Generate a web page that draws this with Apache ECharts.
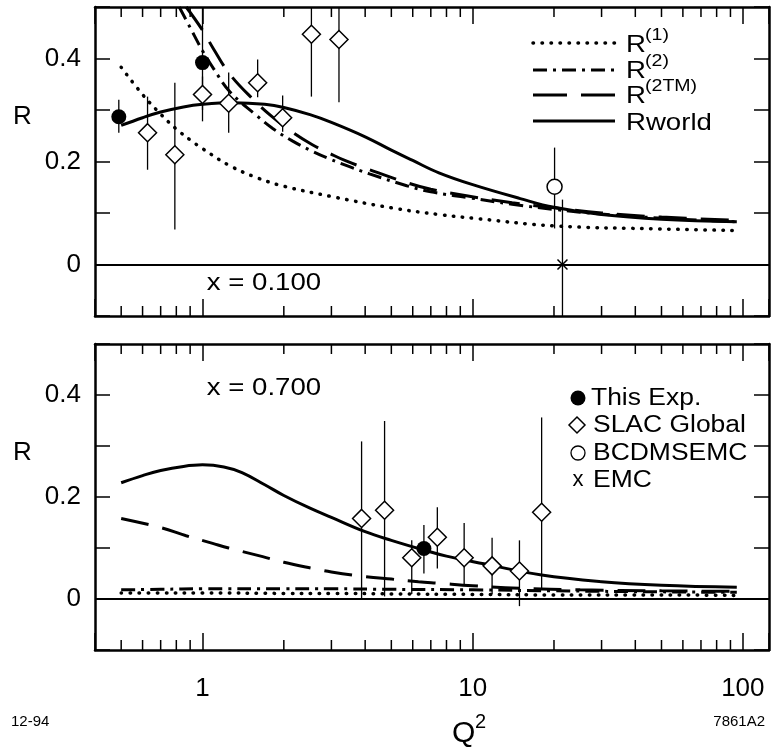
<!DOCTYPE html>
<html><head><meta charset="utf-8">
<script src="https://cdn.jsdelivr.net/npm/echarts@6/dist/echarts.min.js"></script>
<style>html,body{margin:0;padding:0;background:#fff}#c{width:775px;height:749px}</style>
</head><body><div id="c"></div>
<script>
// ---------------- DATA ----------------
// x-axis tick labels (Q^2, log scale)
const xTickLabels = [1, 10, 100];
const xMinorTicks = [0.5,0.6,0.7,0.8,0.9,2,3,4,5,6,7,8,9,20,30,40,50,60,70,80,90];
const yTickLabels = [0, 0.2, 0.4];

// ---- Panel 1: x = 0.100 ----
const r1TopQ   = [0.5, 0.6, 0.7, 0.8, 0.9, 1.0, 1.26, 1.6, 2.0, 3.0, 5.0, 7.5, 10, 20, 50, 95];
const r1TopR   = [0.383, 0.33, 0.292, 0.263, 0.242, 0.225, 0.192, 0.168, 0.152, 0.132, 0.11, 0.097, 0.09, 0.075, 0.069, 0.066];
const r2TopQ   = [0.82, 0.9, 1.0, 1.1, 1.26, 1.58, 1.82, 2.15, 2.5, 2.95, 3.5, 4.15, 5.7, 7, 9.6, 14, 20, 30, 50, 95];
const r2TopR   = [0.5, 0.46, 0.415, 0.38, 0.336, 0.29, 0.264, 0.24, 0.222, 0.205, 0.19, 0.176, 0.153, 0.141, 0.13, 0.117, 0.107, 0.098, 0.09, 0.083];
const r2tmTopQ = [0.87, 1.0, 1.1, 1.26, 1.53, 1.8, 2.15, 2.56, 3.0, 3.4, 4.06, 5.7, 7, 9.6, 14, 20, 30, 50, 95];
const r2tmTopR = [0.5, 0.455, 0.418, 0.37, 0.322, 0.288, 0.257, 0.232, 0.214, 0.201, 0.186, 0.159, 0.146, 0.133, 0.12, 0.11, 0.1, 0.092, 0.086];
const rwTopQ   = [0.5, 0.6, 0.7, 0.85, 1.0, 1.3, 1.7, 2.0, 2.5, 3.0, 4.0, 5.0, 6.0, 7.5, 10, 15, 20, 30, 50, 95];
const rwTopR   = [0.27, 0.285, 0.296, 0.306, 0.311, 0.314, 0.311, 0.305, 0.291, 0.276, 0.248, 0.222, 0.202, 0.178, 0.155, 0.128, 0.111, 0.097, 0.088, 0.083];

const expTopQ  = [0.49, 1.0];
const expTopR  = [0.287, 0.392];
const expTopLo = [0.256, 0.30];
const expTopHi = [0.32, 0.52];

const slacTopQ  = [0.626, 0.79, 1.0, 1.25, 1.6, 1.98, 2.53, 3.2];
const slacTopR  = [0.256, 0.213, 0.33, 0.313, 0.353, 0.285, 0.447, 0.437];
const slacTopLo = [0.184, 0.068, 0.278, 0.256, 0.325, 0.258, 0.326, 0.315];
const slacTopHi = [0.326, 0.353, 0.365, 0.373, 0.398, 0.328, 0.52, 0.52];

const bcdTopQ  = [20.1];
const bcdTopR  = [0.151];
const bcdTopLo = [0.07];
const bcdTopHi = [0.227];

const emcTopQ  = [21.5];
const emcTopR  = [0.0];
const emcTopLo = [-0.13];
const emcTopHi = [0.126];

// ---- Panel 2: x = 0.700 ----
const r1BotQ   = [0.5, 0.7, 1.0, 2.0, 3.0, 5.0, 10, 20, 50, 95];
const r1BotR   = [0.012, 0.012, 0.012, 0.011, 0.011, 0.01, 0.009, 0.008, 0.008, 0.007];
const r2BotQ   = [0.5, 0.7, 1.0, 2.0, 3.0, 5.0, 10, 20, 50, 95];
const r2BotR   = [0.018, 0.019, 0.02, 0.02, 0.02, 0.019, 0.018, 0.016, 0.014, 0.013];
const r2tmBotQ = [0.5, 0.7, 0.87, 1.09, 1.25, 1.67, 2.0, 2.56, 3.0, 4.0, 5.0, 6.3, 7.5, 10, 15, 25, 50, 95];
const r2tmBotR = [0.158, 0.14, 0.124, 0.109, 0.1, 0.083, 0.072, 0.06, 0.053, 0.044, 0.039, 0.034, 0.031, 0.026, 0.021, 0.018, 0.016, 0.015];
const rwBotQ   = [0.5, 0.6, 0.7, 0.85, 1.0, 1.2, 1.4, 1.7, 2.0, 2.5, 3.0, 4.0, 5.0, 6.6, 8, 11, 18, 30, 50, 95];
const rwBotR   = [0.228, 0.242, 0.252, 0.26, 0.263, 0.259, 0.248, 0.224, 0.203, 0.178, 0.16, 0.132, 0.115, 0.096, 0.084, 0.069, 0.047, 0.034, 0.027, 0.023];

const expBotQ  = [6.6];
const expBotR  = [0.099];
const expBotLo = [0.05];
const expBotHi = [0.145];

const slacBotQ  = [3.88, 4.72, 5.95, 7.4, 9.3, 11.8, 14.9, 18.0];
const slacBotR  = [0.158, 0.174, 0.081, 0.121, 0.081, 0.065, 0.055, 0.17];
const slacBotLo = [0.0, 0.005, 0.01, 0.06, 0.026, 0.01, -0.014, 0.02];
const slacBotHi = [0.309, 0.349, 0.115, 0.18, 0.149, 0.12, 0.115, 0.356];

// ---------------- CHART ----------------
const FONT = "'Liberation Sans', Arial, Helvetica, sans-serif";
const chart = echarts.init(document.getElementById('c'), null, {renderer: 'canvas'});

const zip = (a, b) => a.map((v, i) => [v, b[i]]);
const zip3 = (a, b, c) => a.map((v, i) => [v, b[i], c[i]]);

function isDecade(v) {
  const l = Math.log10(v);
  return Math.abs(l - Math.round(l)) < 1e-6;
}

function xAxisDef(gridIndex, position, showLabel) {
  return {
    type: 'log', logBase: 10, min: 0.4, max: 125, gridIndex, position,
    axisLine: {show: true, onZero: false, lineStyle: {color: '#000', width: 2.5}},
    axisTick: {show: true, inside: true, length: 17, lineStyle: {color: '#000', width: 1.5}},
    splitLine: {show: false}, minorTick: {show: false},
    axisLabel: {
      show: showLabel, margin: 26, fontSize: 26, fontFamily: FONT, color: '#000',
      showMinLabel: true, showMaxLabel: true,
      formatter: v => (isDecade(v) && xTickLabels.includes(Math.round(v))) ? String(Math.round(v)) : ''
    }
  };
}
function yAxisDef(gridIndex, position, showLabel) {
  return {
    type: 'value', min: -0.1, max: 0.5, interval: 0.1, gridIndex, position,
    axisLine: {show: true, onZero: false, lineStyle: {color: '#000', width: 2.5}},
    axisTick: {show: true, inside: true, length: 15, lineStyle: {color: '#000', width: 1.5}},
    splitLine: {show: false},
    axisLabel: {
      show: showLabel, margin: 14, fontSize: 26, fontFamily: FONT, color: '#000',
      formatter: v => {
        const r = Math.round(v * 10) / 10;
        return yTickLabels.includes(r) ? (r === 0 ? '0' : String(r)) : '';
      }
    }
  };
}

function lineSeries(name, q, r, xi, lineStyle, extra) {
  return Object.assign({
    name, type: 'line', xAxisIndex: xi, yAxisIndex: xi,
    data: zip(q, r), showSymbol: false, smooth: 0.4, silent: true,
    lineStyle: Object.assign({color: '#000'}, lineStyle), z: 3, clip: true
  }, extra || {});
}

function errSeries(q, lo, hi, xi) {
  return {
    type: 'custom', xAxisIndex: xi, yAxisIndex: xi, silent: true, z: 4,
    data: zip3(q, lo, hi),
    renderItem: (params, api) => {
      const cs = params.coordSys;
      const p1 = api.coord([api.value(0), api.value(1)]);
      const p2 = api.coord([api.value(0), api.value(2)]);
      const clampY = y => Math.max(cs.y, Math.min(cs.y + cs.height, y));
      return {type: 'line', shape: {x1: p1[0], y1: clampY(p1[1]), x2: p2[0], y2: clampY(p2[1])},
        style: {stroke: '#000', lineWidth: 1.3}};
    }
  };
}

function minorTickSeries(xi) {
  return {
    type: 'custom', xAxisIndex: xi, yAxisIndex: xi, silent: true, z: 2,
    data: xMinorTicks.map(v => [v, 0]),
    renderItem: (params, api) => {
      const cs = params.coordSys;
      const x = api.coord([api.value(0), 0])[0];
      return {type: 'group', children: [
        {type: 'line', shape: {x1: x, y1: cs.y + cs.height, x2: x, y2: cs.y + cs.height - 10}, style: {stroke: '#000', lineWidth: 1.5}},
        {type: 'line', shape: {x1: x, y1: cs.y, x2: x, y2: cs.y + 10}, style: {stroke: '#000', lineWidth: 1.5}}
      ]};
    }
  };
}

const DIAMOND = 'path://M0,-10L10,0L0,10L-10,0Z';
const XMARK = 'path://M-1,-1L1,1M-1,1L1,-1';

function scatter(q, r, xi, kind) {
  const base = {type: 'scatter', xAxisIndex: xi, yAxisIndex: xi, data: zip(q, r), silent: true, z: 6};
  if (kind === 'exp') return Object.assign(base, {symbol: 'circle', symbolSize: 15, itemStyle: {color: '#000', opacity: 1}});
  if (kind === 'slac') return Object.assign(base, {symbol: DIAMOND, symbolSize: 18, itemStyle: {color: '#fff', borderColor: '#000', borderWidth: 1.5, opacity: 1}});
  if (kind === 'bcd') return Object.assign(base, {symbol: 'circle', symbolSize: 15, itemStyle: {color: '#fff', borderColor: '#000', borderWidth: 1.5, opacity: 1}});
  return Object.assign(base, {symbol: XMARK, symbolSize: 10, itemStyle: {color: 'rgba(0,0,0,0)', borderColor: '#000', borderWidth: 1.5, opacity: 1}});
}

const DOT = {width: 3.5, type: [0.5, 8.5], cap: 'round'};
const DASHDOT = {width: 3, type: [14, 6, 3, 6], cap: 'butt'};
const LONGDASH = {width: 3, type: [28, 14], cap: 'butt'};
const SOLID = {width: 3, type: 'solid'};

const zeroLine = {silent: true, symbol: ['none', 'none'], label: {show: false},
  lineStyle: {color: '#000', width: 2, type: 'solid'}, data: [{yAxis: 0}]};

const series = [
  minorTickSeries(0), minorTickSeries(2),
  lineSeries('R(1)', r1TopQ, r1TopR, 0, DOT, {markLine: zeroLine}),
  lineSeries('R(2)', r2TopQ, r2TopR, 0, DASHDOT),
  lineSeries('R(2TM)', r2tmTopQ, r2tmTopR, 0, LONGDASH),
  lineSeries('Rworld', rwTopQ, rwTopR, 0, SOLID),
  errSeries(expTopQ, expTopLo, expTopHi, 0),
  errSeries(slacTopQ, slacTopLo, slacTopHi, 0),
  errSeries(bcdTopQ, bcdTopLo, bcdTopHi, 0),
  errSeries(emcTopQ, emcTopLo, emcTopHi, 0),
  scatter(expTopQ, expTopR, 0, 'exp'),
  scatter(slacTopQ, slacTopR, 0, 'slac'),
  scatter(bcdTopQ, bcdTopR, 0, 'bcd'),
  scatter(emcTopQ, emcTopR, 0, 'emc'),

  lineSeries('R(1)', r1BotQ, r1BotR, 2, DOT, {markLine: zeroLine}),
  lineSeries('R(2)', r2BotQ, r2BotR, 2, DASHDOT),
  lineSeries('R(2TM)', r2tmBotQ, r2tmBotR, 2, LONGDASH),
  lineSeries('Rworld', rwBotQ, rwBotR, 2, SOLID),
  errSeries(expBotQ, expBotLo, expBotHi, 2),
  errSeries(slacBotQ, slacBotLo, slacBotHi, 2),
  scatter(expBotQ, expBotR, 2, 'exp'),
  scatter(slacBotQ, slacBotR, 2, 'slac')
];

series.forEach(s => { s.yAxisIndex = s.xAxisIndex; });

const txt = (text, x, y, size, align, extra) => Object.assign({
  type: 'text', x, y, silent: true, z: 10,
  style: {text, fontSize: size, fontFamily: FONT, fill: '#000', align: align || 'left', verticalAlign: 'middle'}
}, extra || {});

const legLine = (y, dash, width, cap) => ({
  type: 'line', silent: true, z: 10,
  shape: {x1: 533, y1: y, x2: 615, y2: y},
  style: {stroke: '#000', lineWidth: width, lineDash: dash, lineCap: cap || 'butt'}
});

const SX = {scaleX: 1.15};

const graphic = [
  txt('R', 13, 117, 26),
  txt('R', 13, 453, 26),
  txt('Q', 452, 734, 30),
  txt('2', 475, 722, 20),
  txt('12-94', 11, 722, 15),
  txt('7861A2', 765, 722, 15, 'right'),
  txt('x = 0.100', 264, 283, 24, 'center', SX),
  txt('x = 0.700', 264, 388, 24, 'center', SX),
  legLine(43, [0.5, 8.5], 3.5, 'round'),
  legLine(70, [14, 6, 3, 6], 3),
  legLine(95, [34, 14], 3),
  legLine(121, null, 3),
  txt('R', 626, 45, 24, 'left', SX),
  txt('(1)', 645, 35, 17, 'left', SX),
  txt('R', 626, 71, 24, 'left', SX),
  txt('(2)', 645, 61, 17, 'left', SX),
  txt('R', 626, 96, 24, 'left', SX),
  txt('(2TM)', 645, 86, 17, 'left', SX),
  txt('Rworld', 626, 123, 24, 'left', SX),
  {type: 'circle', silent: true, z: 10, shape: {cx: 578, cy: 398, r: 7.5}, style: {fill: '#000'}},
  {type: 'polygon', silent: true, z: 10, shape: {points: [[577, 417], [585, 425], [577, 433], [569, 425]]}, style: {fill: '#fff', stroke: '#000', lineWidth: 1.5}},
  {type: 'circle', silent: true, z: 10, shape: {cx: 578, cy: 453, r: 7}, style: {fill: '#fff', stroke: '#000', lineWidth: 1.3}},
  txt('x', 578, 480, 22, 'center'),
  txt('This Exp.', 591, 399, 23, 'left', SX),
  txt('SLAC Global', 593, 426, 23, 'left', SX),
  txt('BCDMSEMC', 593, 454, 23, 'left', SX),
  txt('EMC', 593, 481, 23, 'left', SX)
];

chart.setOption({
  animation: false,
  backgroundColor: '#fff',
  grid: [
    {left: 95, top: 7, width: 674, height: 309, show: false},
    {left: 95, top: 344, width: 674, height: 306, show: false}
  ],
  xAxis: [
    xAxisDef(0, 'bottom', false),
    xAxisDef(0, 'top', false),
    xAxisDef(1, 'bottom', true),
    xAxisDef(1, 'top', false)
  ],
  yAxis: [
    yAxisDef(0, 'left', true),
    yAxisDef(0, 'right', false),
    yAxisDef(1, 'left', true),
    yAxisDef(1, 'right', false)
  ],
  series,
  graphic
});
</script></body></html>
